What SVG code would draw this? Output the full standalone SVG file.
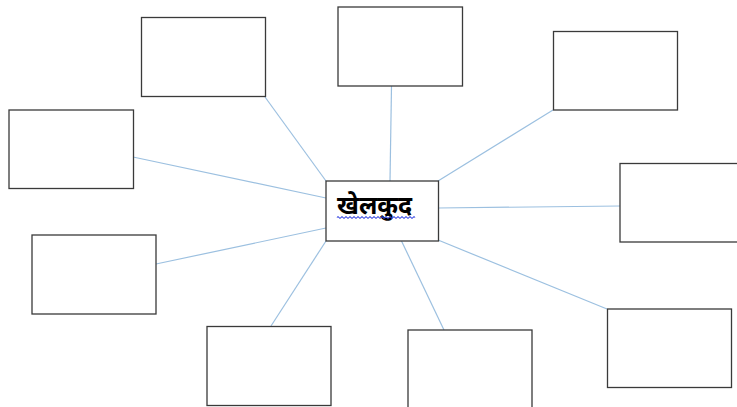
<svg xmlns="http://www.w3.org/2000/svg" width="737" height="407" viewBox="0 0 737 407">
<style>
.box{fill:#fff;stroke:#3a3a3a;stroke-width:1.3}
.ln{stroke:#9cc0e0;stroke-width:1.2;fill:none}
.lbl{font-family:"Noto Sans","Noto Sans Devanagari","Lohit Devanagari",sans-serif;font-size:25px;font-weight:bold;fill:#000}
.wave{fill:none;stroke:#2f3fe0;stroke-width:1.1}
</style>
<rect width="737" height="407" fill="#fff"/>
<g id="connectors">
<line class="ln" x1="265" y1="97" x2="326" y2="181"/>
<line class="ln" x1="391.5" y1="86" x2="390" y2="181"/>
<line class="ln" x1="553" y1="110" x2="438" y2="181"/>
<line class="ln" x1="133" y1="157" x2="326" y2="198"/>
<line class="ln" x1="438" y1="208" x2="620" y2="206"/>
<line class="ln" x1="156" y1="264" x2="326" y2="228"/>
<line class="ln" x1="326" y1="241" x2="271" y2="326"/>
<line class="ln" x1="401.5" y1="241" x2="444" y2="330"/>
<line class="ln" x1="438" y1="240" x2="607" y2="309"/>
</g>
<g id="n-top-left"><rect class="box" x="141.5" y="17.5" width="124" height="79"/></g>
<g id="n-top"><rect class="box" x="338" y="7" width="124.5" height="79"/></g>
<g id="n-top-right"><rect class="box" x="553.5" y="31.5" width="124" height="78.5"/></g>
<g id="n-left"><rect class="box" x="9" y="110" width="124.5" height="78.5"/></g>
<g id="n-right"><rect class="box" x="620" y="163.5" width="125" height="78.5"/></g>
<g id="n-left-low"><rect class="box" x="32" y="235" width="124" height="79"/></g>
<g id="n-bottom-left"><rect class="box" x="207" y="326.5" width="124" height="79"/></g>
<g id="n-bottom"><rect class="box" x="408" y="330" width="124" height="82"/></g>
<g id="n-bottom-right"><rect class="box" x="607.5" y="309" width="124" height="78.5"/></g>
<g id="n-center">
<rect class="box" x="326" y="181" width="112.5" height="60"/>
<text class="lbl" x="337" y="214">खेलकुद</text>
<path class="wave" d="M337 217.5 q1 -1.5 2 0 t2 0 t2 0 t2 0 t2 0 t2 0 t2 0 t2 0 t2 0 t2 0 t2 0 t2 0 t2 0 t2 0 t2 0 t2 0 t2 0 t2 0 t2 0 t2 0 t2 0 t2 0 t2 0 t2 0 t2 0 t2 0 t2 0 t2 0 t2 0 t2 0 t2 0 t2 0 t2 0 t2 0 t2 0 t2 0 t2 0 t2 0 t2 0"/>
</g>
</svg>
